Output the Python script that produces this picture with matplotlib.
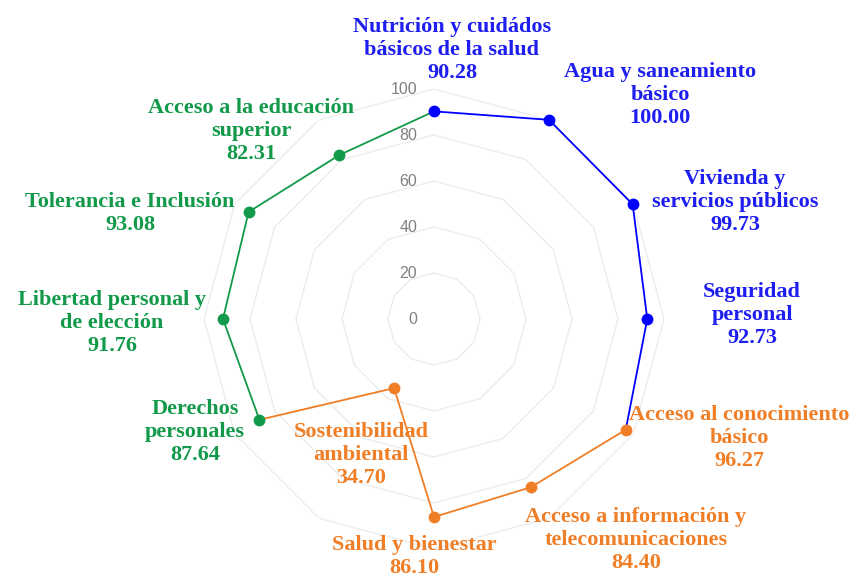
import numpy as np
import matplotlib
matplotlib.use("Agg")
import matplotlib.pyplot as plt

# datos del indice de progreso social (12 componentes)
categorias = [
    "Nutrición y cuidádos\nbásicos de la salud",
    "Agua y saneamiento\nbásico",
    "Vivienda y\nservicios públicos",
    "Seguridad\npersonal",
    "Acceso al conocimiento\nbásico",
    "Acceso a información y\ntelecomunicaciones",
    "Salud y bienestar",
    "Sostenibilidad\nambiental",
    "Derechos\npersonales",
    "Libertad personal y\nde elección",
    "Tolerancia e Inclusión",
    "Acceso a la educación\nsuperior",
]
valores = [90.28, 100.00, 99.73, 92.73, 96.27, 84.40, 86.10, 34.70, 87.64, 91.76, 93.08, 82.31]
grupo = [0, 0, 0, 0, 1, 1, 1, 1, 2, 2, 2, 2]
ticks_r = [0, 20, 40, 60, 80, 100]

colores_punto = ["#0000FF", "#F07E26", "#129A4A"]
colores_texto = ["#1E1EF0", "#F07E26", "#129A4A"]

# posicion de las etiquetas (centro en px de la primera linea) - a mano
pos_etiquetas = [
    (452, 25), (660, 70), (735, 177), (752, 290), (739, 413), (636, 515),
    (414, 543), (361, 430), (195, 407), (112, 298), (130, 200), (251, 106),
]

W, H = 851, 579
fig = plt.figure(figsize=(W / 100, H / 100), dpi=100)
cx, cy, R = 434, 319, 230
ax = fig.add_axes([(cx - R) / W, (H - cy - R) / H, 2 * R / W, 2 * R / H], projection="polar")
ax.set_theta_zero_location("N")
ax.set_theta_direction(-1)
ax.set_ylim(0, 100)
ax.grid(False)
ax.set_xticks([])
ax.set_yticks([])
ax.spines["polar"].set_visible(False)
ax.patch.set_alpha(0)

n = len(valores)
ang = np.arange(n) * 2 * np.pi / n

# rejilla poligonal (sin radios)
for r in ticks_r[1:]:
    ax.plot(np.append(ang, ang[0]), [r] * (n + 1), color="#ececec", lw=1.0, zorder=1)
for r in ticks_r:
    ax.annotate(str(r), xy=(0, r), xytext=(-12, 0), textcoords="offset points",
                ha="right", va="center", fontsize=11.5, color="#808080",
                family="Liberation Sans", annotation_clip=False)

# lineas: cada tramo del color del punto de partida
for i in range(n):
    j = (i + 1) % n
    ax.plot([ang[i], ang[j]], [valores[i], valores[j]], color=colores_punto[grupo[i]],
            lw=1.3, zorder=3, clip_on=False)
for i in range(n):
    ax.plot(ang[i], valores[i], "o", color=colores_punto[grupo[i]], ms=7.5, zorder=4,
            clip_on=False)

for i in range(n):
    x, y = pos_etiquetas[i]
    txt = categorias[i] + "\n" + f"{valores[i]:.2f}"
    fig.text(x / W, 1 - (y - 8) / H, txt, ha="center", va="top", fontsize=16,
             fontweight="bold", family="Liberation Serif", color=colores_texto[grupo[i]],
             linespacing=1.2)

fig.savefig("out.png", dpi=100)
